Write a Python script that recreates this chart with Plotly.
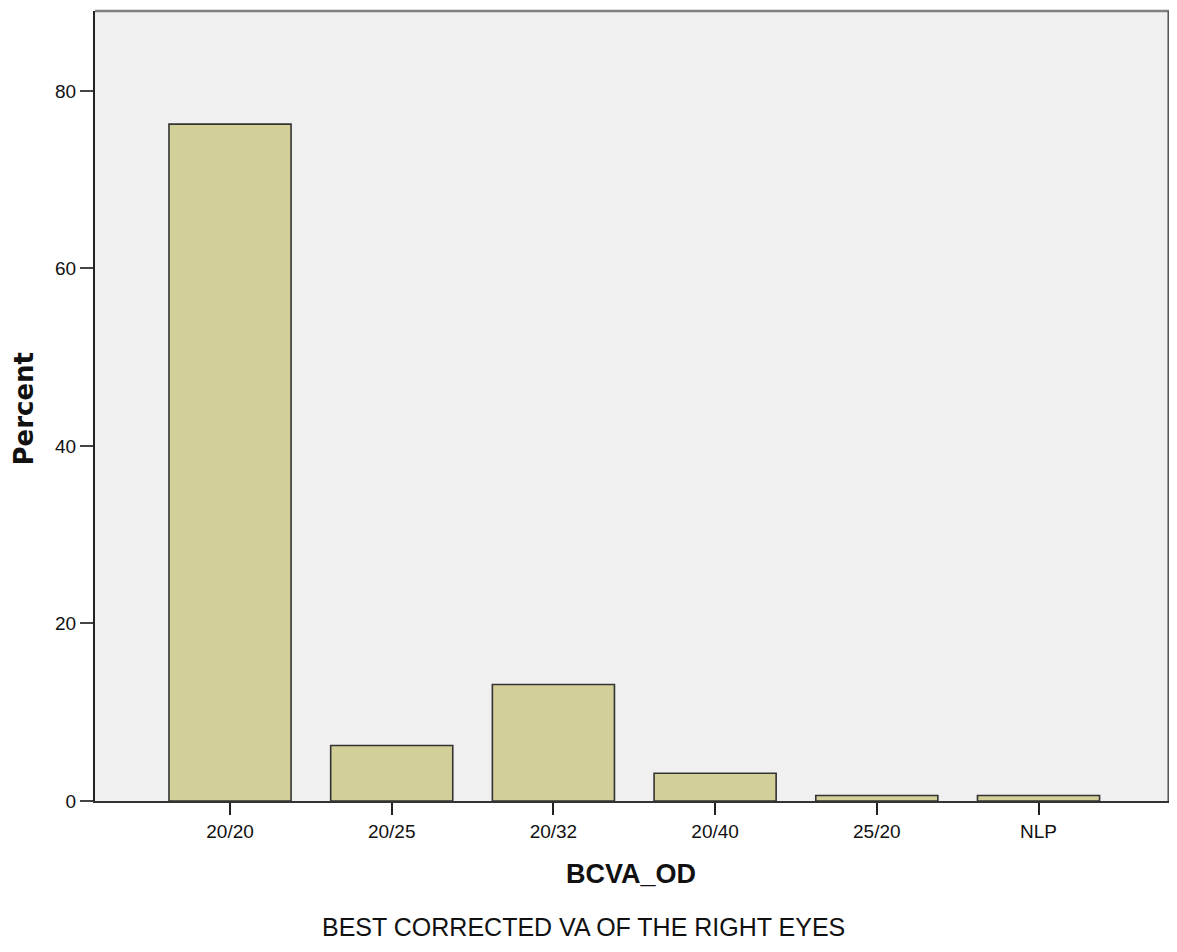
import plotly.graph_objects as go

categories = ["20/20", "20/25", "20/32", "20/40", "25/20", "NLP"]
percent = [76.25, 6.25, 13.125, 3.125, 0.625, 0.625]
y_ticks = [0, 20, 40, 60, 80]

fig = go.Figure(go.Bar(
    x=list(range(len(categories))),
    y=percent,
    width=0.755,
    marker=dict(color="#D3CF98", line=dict(color="#333333", width=1.6)),
))

FONT = "Liberation Sans, Arial"
# page body adds an 8px margin; figure sized so no scrollbars appear
fig.update_layout(
    width=1161, height=936,
    margin=dict(l=87, r=0, t=3, b=143),
    paper_bgcolor="white",
    plot_bgcolor="#F0F0F0",
    showlegend=False,
    font=dict(family=FONT, size=19, color="#111"),
)
fig.update_xaxes(
    range=[-0.835, 5.807],
    tickmode="array", tickvals=list(range(len(categories))), ticktext=categories,
    ticks="outside", ticklen=12, tickwidth=2, tickcolor="#222",
    showline=True, linecolor="#333", linewidth=2, mirror=False,
    showgrid=False, zeroline=False,
    tickfont=dict(family=FONT, size=19, color="#111"),
)
fig.update_yaxes(
    range=[0, 89],
    tickmode="array", tickvals=y_ticks,
    ticks="outside", ticklen=13, tickwidth=2, tickcolor="#444",
    showline=True, linecolor="#222", linewidth=2, mirror=False,
    showgrid=False, zeroline=False,
    tickfont=dict(family=FONT, size=19, color="#111"),
)
# frame: top and right edges in grey
fig.add_shape(type="line", xref="paper", yref="paper", x0=0, x1=1, y0=1, y1=1,
              line=dict(color="#808080", width=2.5))
fig.add_shape(type="line", xref="paper", yref="paper", x0=0.9995, x1=0.9995, y0=0, y1=1,
              line=dict(color="#555555", width=2))

fig.add_annotation(text="<b>Percent</b>", xref="paper", yref="paper",
                   x=-0.066, y=0.497, xanchor="center", yanchor="middle",
                   textangle=-90, showarrow=False,
                   font=dict(family="DejaVu Sans", size=26, color="#111"))
fig.add_annotation(text="<b>BCVA_OD</b>", xref="paper", yref="paper",
                   x=0.4995, y=-0.093, xanchor="center", yanchor="middle",
                   showarrow=False,
                   font=dict(family=FONT, size=27, color="#111"))
fig.add_annotation(text="BEST CORRECTED VA OF THE RIGHT EYES", xref="paper", yref="paper",
                   x=0.4545, y=-0.1595, xanchor="center", yanchor="middle",
                   showarrow=False,
                   font=dict(family=FONT, size=25, color="#111"))

fig.write_html("out.html")
